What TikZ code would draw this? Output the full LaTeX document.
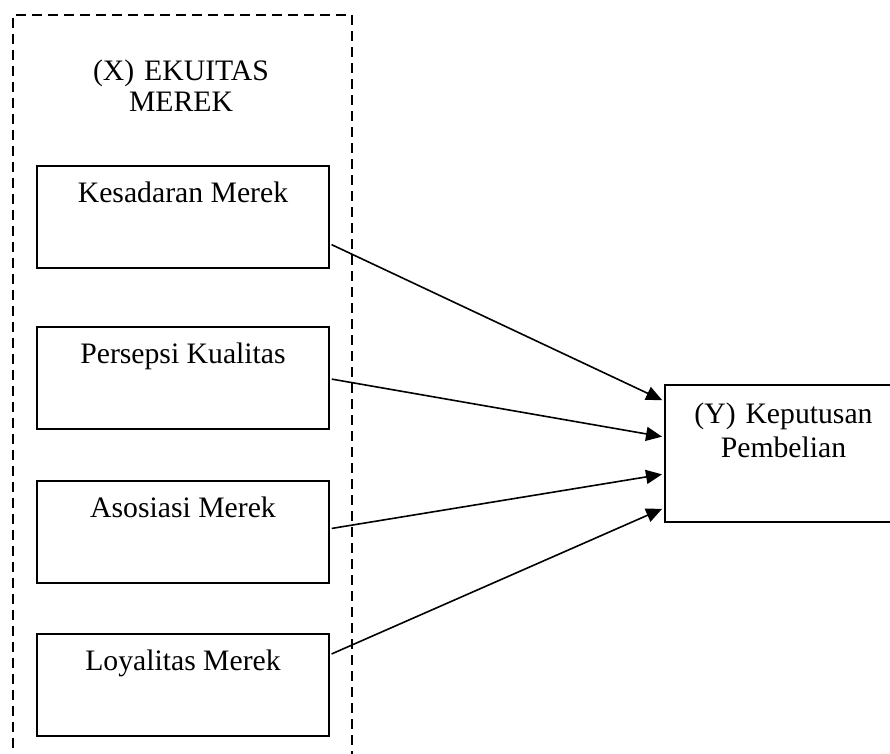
\documentclass[tikz,border=0pt]{standalone}
\usepackage{fontspec}
\setmainfont{Liberation Serif}
\usetikzlibrary{arrows.meta}
\begin{document}
\begin{tikzpicture}[x=1pt,y=-1pt]
\tikzset{kotak/.style={draw,line width=1.5pt,inner sep=0pt,anchor=north,minimum width=292pt,text height=37pt,text depth=65pt,font=\fontsize{29.7}{34}\selectfont}}
\tikzset{panah/.style={-{Triangle[length=16pt,width=14pt]},line width=1.6pt,shorten >=2pt,shorten <=2pt}}
\useasboundingbox (0,0) rectangle (890,753);
\clip (0,0) rectangle (890,753);
\draw[line width=2.2pt,dash pattern=on 10pt off 6pt] (13,780) -- (13,15) -- (352,15) -- (352,780);
\node [font=\fontsize{29.7}{31}\selectfont,text width=220pt,align=center,inner sep=0pt,anchor=base] (x) at (181,80) {(X) EKUITAS\\MEREK};
\node [kotak] (k1) at (183,165) {Kesadaran Merek};
\node [kotak] (k2) at (183,326) {Persepsi Kualitas};
\node [kotak] (k3) at (183,480) {Asosiasi Merek};
\node [kotak] (k4) at (183,633) {Loyalitas Merek};
\node [kotak,line width=2pt,minimum width=237pt,text width=230pt,align=center,text height=38pt,text depth=99pt] (y) at (783.5,384) {(Y) Keputusan\\Pembelian};
\draw[panah] ([yshift=-27pt]k1.east) to ([yshift=52.5pt]y.west);
\draw[panah] ([yshift=-1pt]k2.east) to ([yshift=16.5pt]y.west);
\draw[panah] ([yshift=3pt]k3.east) to ([yshift=-20.5pt]y.west);
\draw[panah] ([yshift=30pt]k4.east) to ([yshift=-54.5pt]y.west);
\end{tikzpicture}
\end{document}
